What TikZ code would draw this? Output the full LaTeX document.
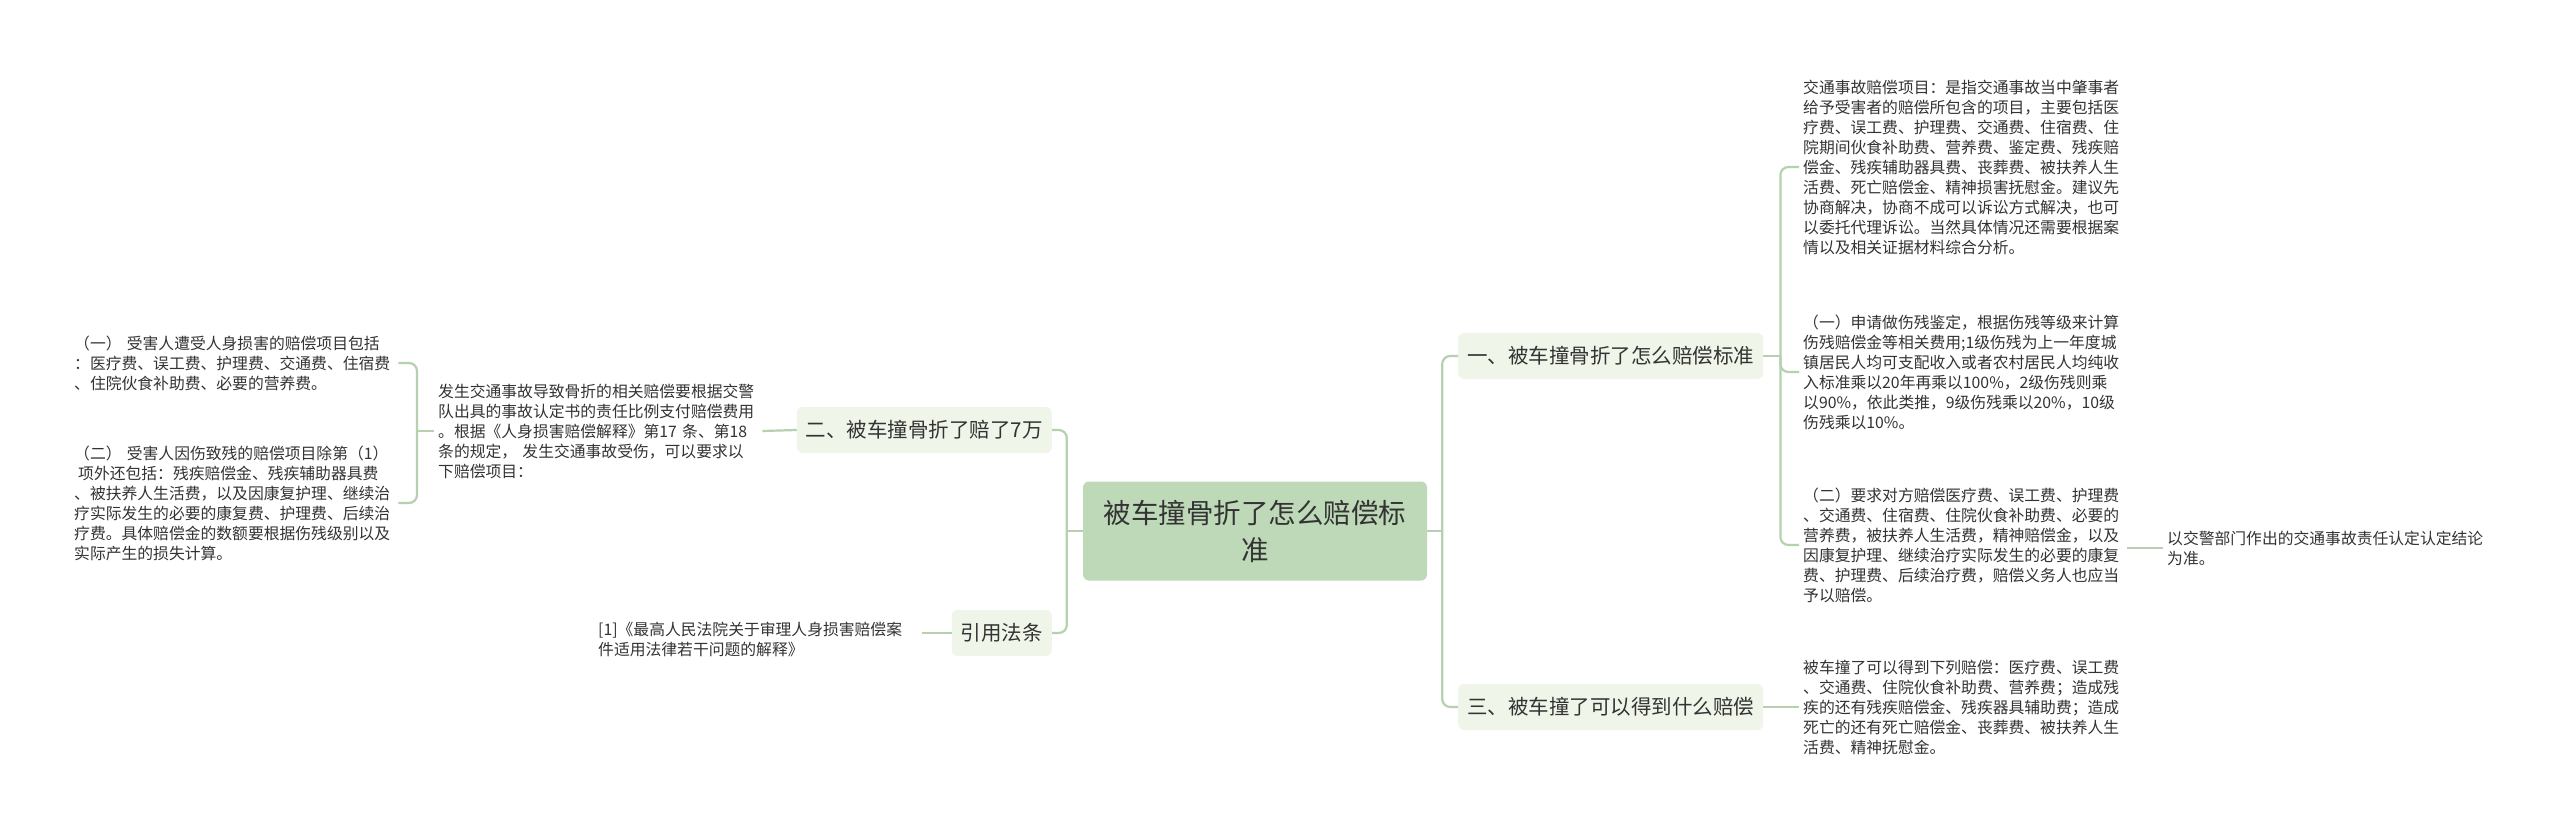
\documentclass[tikz,border=0pt]{standalone}
\usepackage{fontspec}
\setmainfont{Noto Sans CJK SC}
\definecolor{cfill}{HTML}{BED9B8}
\definecolor{bfill}{HTML}{EFF5E9}
\definecolor{lc}{HTML}{B7D1B0}
\definecolor{tc}{HTML}{333333}
\begin{document}
\begin{tikzpicture}[x=1pt,y=-1pt,
  conn/.style={draw=lc,line width=2.2pt,rounded corners=8pt},
  centerbox/.style={fill=cfill,rounded corners=6pt,minimum width=344pt,minimum height=99pt,align=center,text=tc,font=\fontsize{27.5}{37}\selectfont,inner sep=0pt},
  branch/.style={fill=bfill,rounded corners=6pt,minimum height=46pt,inner xsep=9pt,inner ysep=0pt,text=tc,font=\fontsize{20.5}{24}\selectfont},
  txt/.style={text width=320pt,align=left,inner xsep=4pt,inner ysep=2pt,text=tc,font=\fontsize{15.8}{20}\selectfont}]
\fill[white] (0,0) rectangle (2560,834);
\useasboundingbox (0,0) rectangle (2560,834);

% center
\node[centerbox] (c) at (1255,531) {被车撞骨折了怎么赔偿标\\准};

% branches
\node[branch,anchor=west] (b1) at (1458,356) {一、被车撞骨折了怎么赔偿标准};
\node[branch,anchor=west] (b3) at (1458,707) {三、被车撞了可以得到什么赔偿};
\node[branch,anchor=east] (b2) at (1052,430) {二、被车撞骨折了赔了7万};
\node[branch,anchor=east] (b4) at (1052,633) {引用法条};

% right texts
\node[txt,anchor=west] (t1) at (1799,167) {交通事故赔偿项目：是指交通事故当中肇事者\\给予受害者的赔偿所包含的项目，主要包括医\\疗费、误工费、护理费、交通费、住宿费、住\\院期间伙食补助费、营养费、鉴定费、残疾赔\\偿金、残疾辅助器具费、丧葬费、被扶养人生\\活费、死亡赔偿金、精神损害抚慰金。建议先\\协商解决，协商不成可以诉讼方式解决，也可\\以委托代理诉讼。当然具体情况还需要根据案\\情以及相关证据材料综合分析。};
\node[txt,anchor=west] (t2) at (1799,372) {（一）申请做伤残鉴定，根据伤残等级来计算\\伤残赔偿金等相关费用;1级伤残为上一年度城\\镇居民人均可支配收入或者农村居民人均纯收\\入标准乘以20年再乘以100\%，2级伤残则乘\\以90\%，依此类推，9级伤残乘以20\%，10级\\伤残乘以10\%。};
\node[txt,anchor=west] (t3) at (1799,545) {（二）要求对方赔偿医疗费、误工费、护理费\\、交通费、住宿费、住院伙食补助费、必要的\\营养费，被扶养人生活费，精神赔偿金，以及\\因康复护理、继续治疗实际发生的必要的康复\\费、护理费、后续治疗费，赔偿义务人也应当\\予以赔偿。};
\node[txt,anchor=west] (t4) at (2163,548) {以交警部门作出的交通事故责任认定认定结论\\为准。};
\node[txt,anchor=west] (t5) at (1799,707) {被车撞了可以得到下列赔偿：医疗费、误工费\\、交通费、住院伙食补助费、营养费；造成残\\疾的还有残疾赔偿金、残疾器具辅助费；造成\\死亡的还有死亡赔偿金、丧葬费、被扶养人生\\活费、精神抚慰金。};

% left texts
\node[txt,anchor=west] (tc) at (434,431) {发生交通事故导致骨折的相关赔偿要根据交警\\队出具的事故认定书的责任比例支付赔偿费用\\。根据《人身损害赔偿解释》第17 条、第18\\条的规定， 发生交通事故受伤，可以要求以\\下赔偿项目：};
\node[txt,anchor=west] (ta) at (70,363) {（一） 受害人遭受人身损害的赔偿项目包括\\：医疗费、误工费、护理费、交通费、住宿费\\、住院伙食补助费、必要的营养费。};
\node[txt,anchor=west] (tb) at (70,503) {（二） 受害人因伤致残的赔偿项目除第（1）\\\hspace*{4pt}项外还包括：残疾赔偿金、残疾辅助器具费\\、被扶养人生活费，以及因康复护理、继续治\\疗实际发生的必要的康复费、护理费、后续治\\疗费。具体赔偿金的数额要根据伤残级别以及\\实际产生的损失计算。};
\node[txt,anchor=west] (cit) at (594,639) {[1]《最高人民法院关于审理人身损害赔偿案\\件适用法律若干问题的解释》};

% connectors
\coordinate (rb) at ([xshift=15pt]c.east);
\coordinate (lb) at ([xshift=-16pt]c.west);
\draw[conn] (c.east) -- (rb);
\draw[conn] (rb) |- (b1.west);
\draw[conn] (rb) |- (b3.west);
\draw[conn] (c.west) -- (lb);
\draw[conn] (lb) |- (b2.east);
\draw[conn] (lb) |- (b4.east);

\coordinate (r1) at ([xshift=17pt]b1.east);
\draw[conn] (b1.east) -- (r1);
\draw[conn] (r1) |- (t1.west);
\draw[conn] (r1) |- (t2.west);
\draw[conn] (r1) |- (t3.west);
\draw[conn] (t3.east |- t4.west) -- (t4.west);
\draw[conn] (b3.east) -- (t5.west);

\draw[conn] (b2.west) -- (tc.east);
\coordinate (lc) at ([xshift=-17pt]tc.west);
\draw[conn] (tc.west) -- (lc);
\draw[conn] (lc) |- (ta.east);
\draw[conn] (lc) |- (tb.east);
\draw[conn] (b4.west) -- (b4.west -| cit.east);
\end{tikzpicture}
\end{document}
